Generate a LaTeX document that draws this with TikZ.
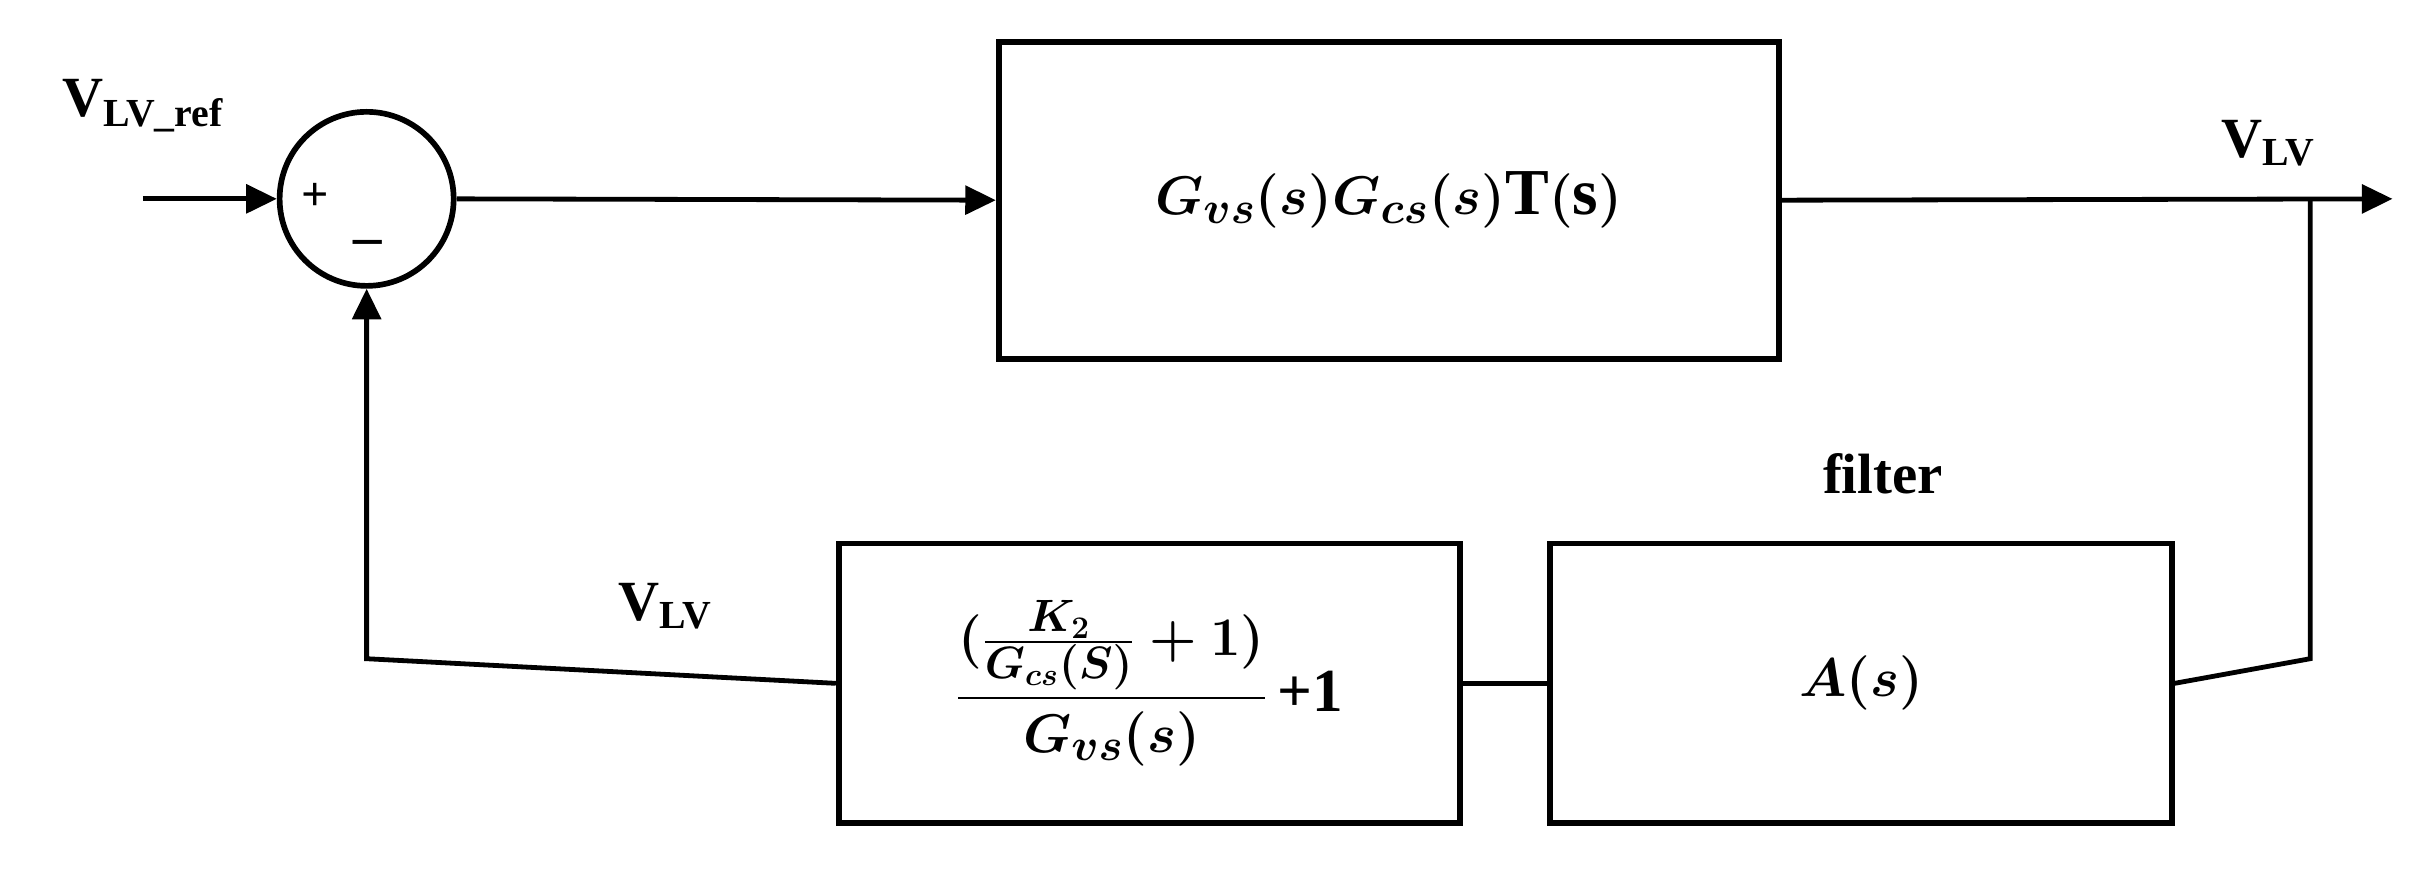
\documentclass[tikz,border=0pt]{standalone}
\usepackage{fontspec}
\setmainfont{Liberation Serif}
\usepackage{amsmath}
\usetikzlibrary{arrows.meta}
\begin{document}
\begin{tikzpicture}[x=0.025cm,y=-0.025cm,
  line width=2.2pt,
  blk/.style={draw,line width=2.6pt,minimum width=12.5cm,minimum height=5.1cm,anchor=north west,inner sep=0pt},
  lbl/.style={font=\fontsize{26}{30}\selectfont\bfseries},
  arr/.style={-{Triangle[length=14pt,width=13pt]}}]
\useasboundingbox (0,0) rectangle (1568,559);
\node[draw,circle,line width=2.6pt,minimum size=2.8cm,inner sep=0pt] (sum) at (236,128) {};
\node[font=\fontsize{22}{24}\selectfont\bfseries] at (203,127) {+};
\node[font=\fontsize{26}{28}\selectfont\bfseries] at (237,155) {\_};
\coordinate (in) at (92,128);
\node[blk,minimum width=12.55cm] (top) at (641,25) {};
\node[font=\fontsize{30}{34}\selectfont\bfseries\boldmath] at (top.center) {$G_{vs}(s)G_{cs}(s)\mathrm{T(s)}$};
\node[blk,minimum height=4.5cm,minimum width=10cm] (fb) at (538,348) {};
\node[font=\fontsize{28}{32}\selectfont\bfseries\boldmath] at (fb.center) {$\dfrac{(\frac{K_2}{G_{cs}(S)}+1)}{G_{vs}(s)}$\,+1};
\node[blk,minimum height=4.5cm,minimum width=10cm] (flt) at (996,348) {};
\node[font=\fontsize{36}{40}\selectfont\bfseries\boldmath] at (flt.center) {$A(s)$};
\coordinate (out) at (1540,128);
\coordinate (br) at (1487,128);
\coordinate (br2) at (1487,424);
\coordinate (lc) at (236,424);
\node[lbl] at (92,68) {V\textsubscript{LV\_ref}};
\node[lbl] at (1460,92) {V\textsubscript{LV}};
\node[lbl] at (428,390) {V\textsubscript{LV}};
\node[lbl] at (1212,305) {filter};
\draw[arr] (in) -- (sum.west);
\draw[arr] (sum.east) -- (top.west);
\draw[arr] (top.east) -- (out);
\draw (br) -- (br2) -- (flt.east);
\draw (flt.west) -- (fb.east);
\draw[arr] (fb.west) -- (lc) -- (sum.south);
\end{tikzpicture}
\end{document}
